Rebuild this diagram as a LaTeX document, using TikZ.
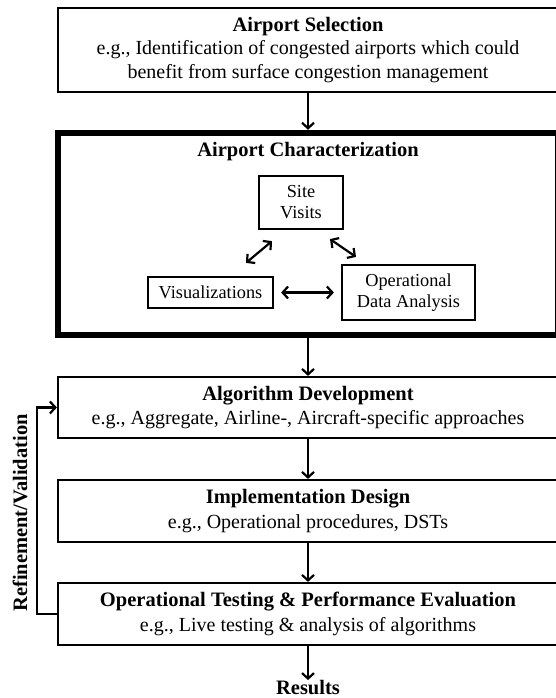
\documentclass[tikz,border=0pt]{standalone}
\usepackage{fontspec}
\setmainfont{Liberation Serif}
\usetikzlibrary{arrows.meta,calc}

\newcommand{\hd}[1]{{\fontsize{20.5}{24}\selectfont\bfseries #1}}

\tikzset{
  stage/.style={draw, line width=2.2pt, minimum width=500pt, align=center, inner sep=0pt, font=\fontsize{20}{23.5}\selectfont},
  frame/.style={draw, line width=6.5pt, minimum width=500pt, minimum height=202pt, inner sep=0pt},
  small/.style={draw, line width=2.2pt, align=center, inner sep=0pt, font=\fontsize{18.3}{21}\selectfont},
  tip/.tip={Straight Barb[length=5.5pt,width=12pt,line width=2.2pt]},
  flow/.style={line width=2.2pt, -tip},
  twoway/.style={line width=2.2pt, tip-tip}
}

\begin{document}
\begin{tikzpicture}[x=1pt,y=1pt]
\clip (0,0) rectangle (556,-698);

\node[stage, minimum height=84pt] (sel) at (308,-50) {\hd{Airport Selection}\\[0pt]
  e.g., Identification of congested airports which could\\benefit from surface congestion management};

\node[frame] (charz) at (308,-234) {};
\node (chartitle) at (308,-152) {\hd{Airport Characterization}};
\node[small, minimum width=84pt, minimum height=53pt] (site) at (301,-202.5) {Site\\Visits};
\node[small, minimum width=125pt, minimum height=31pt] (vis) at (210.5,-292.5) {Visualizations};
\node[small, minimum width=133pt, minimum height=55pt] (opda) at (408.5,-292.5) {Operational\\Data Analysis};

\node[stage, minimum height=61pt] (alg) at (308,-407.5) {\hd{Algorithm Development}\\[1pt]
  e.g., Aggregate, Airline-, Aircraft-specific approaches};
\node[stage, minimum height=62pt] (impl) at (308,-511) {\hd{Implementation Design}\\[1pt]
  e.g., Operational procedures, DSTs};
\node[stage, minimum height=62pt] (test) at (308,-614) {\hd{Operational Testing \& Performance Evaluation}\\[1pt]
  e.g., Live testing \& analysis of algorithms};
\node[inner sep=0.5pt] (res) at (308,-688) {\hd{Results}};
\node[rotate=90] (refval) at (20,-513) {\hd{Refinement/Validation}};

% main flow
\draw[flow] (sel) -- (charz);
\draw[flow] (charz) -- (alg);
\draw[flow] (alg) -- (impl);
\draw[flow] (impl) -- (test);
\draw[flow] (test) -- (res);
\draw[flow] (test.west) -- ++(-20,0) |- (alg.west);

% inside the characterization box
\draw[twoway] ([xshift=35.5pt,yshift=13pt]vis.north) -- ([xshift=-29pt,yshift=-11pt]site.south);
\draw[twoway] ([xshift=29pt,yshift=-9pt]site.south) -- ([xshift=-52.5pt,yshift=7pt]opda.north);
\draw[twoway, shorten <=7pt, shorten >=7pt] (vis) -- (opda);

\end{tikzpicture}
\end{document}
